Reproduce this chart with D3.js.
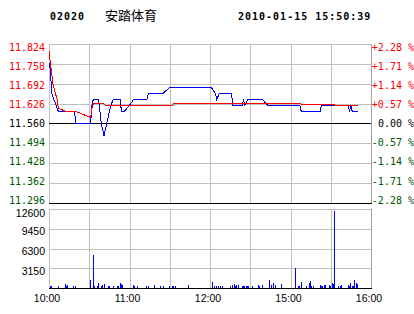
<!DOCTYPE html>
<html>
<head>
<meta charset="utf-8">
<script src="https://cdn.jsdelivr.net/npm/d3@7"></script>
<style>
  body { margin: 0; background: #fff; }
  svg { display: block; }
</style>
</head>
<body>
<svg id="chart"></svg>
<script>
// header
var stockCode = "02020";
var stockName = "安踏体育";
var stamp = "2010-01-15 15:50:39";

var prevClose = 11.56;
var priceTicks = [11.824, 11.758, 11.692, 11.626, 11.560, 11.494, 11.428, 11.362, 11.296];
var pctTicks = ["+2.28 %", "+1.71 %", "+1.14 %", "+0.57 %", "0.00 %", "-0.57 %", "-1.14 %", "-1.71 %", "-2.28 %"];
var volTicks = [12600, 9450, 6300, 3150];
var timeTicks = [0, 60, 120, 180, 240];
var timeLabels = ["10:00", "11:00", "12:00", "15:00", "16:00"];

// minutes since 10:00 (lunch removed) -> price
var priceMin = [0, 1, 2, 7, 19, 20, 31, 32, 33, 37, 39, 41, 43, 46, 48, 53, 54, 56, 60, 63, 73, 74, 85, 90,
  121, 124, 125, 127, 136, 137, 144, 145, 146, 148, 159, 163, 187, 188, 202, 203, 223, 224, 225, 226, 230];
var priceVal = [11.76, 11.74, 11.66, 11.60, 11.60, 11.56, 11.56, 11.62, 11.64, 11.64, 11.56, 11.52, 11.56, 11.62, 11.64, 11.64, 11.60, 11.60, 11.62, 11.64, 11.64, 11.66, 11.66, 11.68,
  11.68, 11.66, 11.64, 11.66, 11.66, 11.62, 11.62, 11.64, 11.62, 11.64, 11.64, 11.62, 11.62, 11.60, 11.60, 11.62, 11.62, 11.60, 11.62, 11.60, 11.60];

// average price
var avgMin = [0, 3, 6, 7, 10, 13, 20, 31, 32, 33, 41, 42, 92, 93, 113, 114, 187, 188, 212, 213, 230];
var avgVal = [11.80, 11.69, 11.64, 11.61, 11.605, 11.60, 11.60, 11.58, 11.61, 11.625, 11.625, 11.62, 11.62, 11.625, 11.625, 11.627, 11.627, 11.624, 11.624, 11.621, 11.621];

// volume per minute
var volMin = [1, 2, 7, 12, 13, 14, 18, 20, 31, 33, 34, 36, 37, 39, 40, 41, 44, 45, 48, 51, 52, 53, 54, 55, 63, 64, 66, 73, 74, 79, 83, 85, 90, 92, 93, 94, 104,
  122, 123, 125, 126, 128, 129, 135, 137, 138, 139, 140, 141, 144, 145, 146, 147, 148, 149, 152, 156, 157, 159, 164, 166, 167, 169, 173, 184, 186, 187, 188,
  192, 194, 195, 196, 197, 202, 203, 204, 205, 206, 209, 210, 211, 212, 213, 216, 217, 218, 223, 224, 225, 226, 227, 228, 229, 230];
var volVal = [370, 370, 370, 680, 370, 500, 370, 370, 1280, 5270, 370, 370, 800, 370, 500, 630, 370, 370, 370, 370, 370, 800, 600, 500, 500, 370, 370, 370, 370, 500, 370, 370, 370, 370, 370, 370, 500,
  950, 320, 370, 370, 370, 370, 370, 480, 590, 370, 480, 480, 370, 370, 370, 370, 370, 370, 370, 480, 370, 480, 1280, 480, 800, 480, 640, 3190, 370, 370, 960,
  370, 800, 1120, 370, 370, 480, 370, 370, 480, 480, 480, 370, 800, 690, 12280, 370, 370, 530, 480, 370, 800, 370, 370, 1280, 800, 590];

var W = 414, H = 314;
var left = 49, right = 371;
var pTop = 44, pBot = 203, vTop = 209, vBot = 288;
var red = "#ff0000", green = "#005500", blue = "#0000ff", grid = "#c0c0c0";

var svg = d3.select("#chart").attr("width", W).attr("height", H);
svg.append("rect").attr("width", W).attr("height", H).attr("fill", "#fff");

var x = d3.scaleLinear().domain([0, 240]).range([left, right]);
var y = d3.scaleLinear().domain([11.296, 11.824]).range([pBot, pTop]);
var yLab = d3.scaleLinear().domain([11.296, 11.824]).range([200, 47.3]);
var yv = d3.scaleLinear().domain([0, 12600]).range([vBot, vTop]);

function tickColor(i){
  if (i < 4) return red;
  if (i == 4) return "#000";
  return green;
}

// header text
var head = svg.append("g").attr("font-weight", "bold")
  .attr("font-family", "'DejaVu Sans Mono', monospace").attr("font-size", 10)
  .style("letter-spacing", "1px");
head.append("text").attr("x", 50).attr("y", 20).text(stockCode);
head.append("text").attr("x", 238).attr("y", 20).text(stamp);
svg.append("text").attr("x", 105).attr("y", 20)
  .attr("font-family", "'Noto Sans CJK SC', sans-serif").attr("font-size", 13)
  .text(stockName);

// grids
var g = svg.append("g").attr("shape-rendering", "crispEdges");
g.selectAll(".ph").data(priceTicks).enter().append("line")
  .attr("x1", left).attr("x2", right)
  .attr("y1", function(d){ return Math.round(y(d)) + 0.5; })
  .attr("y2", function(d){ return Math.round(y(d)) + 0.5; })
  .attr("stroke", function(d, i){ return (i == 4 || i == 8) ? "#000" : grid; });
g.selectAll(".vh").data(volTicks.concat([0])).enter().append("line")
  .attr("x1", left).attr("x2", right)
  .attr("y1", function(d){ return Math.round(yv(d)) + 0.5; })
  .attr("y2", function(d){ return Math.round(yv(d)) + 0.5; })
  .attr("stroke", function(d){ return d == 0 ? "#000" : grid; });
var gridMin = d3.range(0, 241, 30);
[[pTop, pBot], [vTop, vBot]].forEach(function(r){
  g.selectAll(null).data(gridMin).enter().append("line")
    .attr("x1", function(d){ return Math.round(x(d)) + 0.5; })
    .attr("x2", function(d){ return Math.round(x(d)) + 0.5; })
    .attr("y1", r[0]).attr("y2", r[1])
    .attr("stroke", function(d){ return d == 240 ? "#a0a0a0" : grid; });
});
// redraw black baselines on top of verticals
g.append("line").attr("x1", left).attr("x2", right)
  .attr("y1", Math.round(y(prevClose)) + 0.5).attr("y2", Math.round(y(prevClose)) + 0.5).attr("stroke", "#000");
g.append("line").attr("x1", left).attr("x2", right + 1)
  .attr("y1", Math.round(y(11.296)) + 0.5).attr("y2", Math.round(y(11.296)) + 0.5).attr("stroke", "#000");
g.append("line").attr("x1", left).attr("x2", right + 1)
  .attr("y1", Math.round(yv(0)) + 0.5).attr("y2", Math.round(yv(0)) + 0.5).attr("stroke", "#000");

// price labels
svg.append("g").attr("font-family", "'DejaVu Sans Mono', monospace").attr("font-size", 10)
  .selectAll("text").data(priceTicks).enter().append("text")
  .attr("x", 45).attr("y", function(d){ return yLab(d); }).attr("dy", "0.36em")
  .attr("text-anchor", "end").attr("fill", function(d, i){ return tickColor(i); })
  .text(function(d){ return d.toFixed(3); });
svg.append("g").attr("font-family", "'DejaVu Sans Mono', monospace").attr("font-size", 10)
  .selectAll("text").data(pctTicks).enter().append("text")
  .attr("x", 414).attr("y", function(d, i){ return yLab(priceTicks[i]); }).attr("dy", "0.36em")
  .attr("text-anchor", "end").attr("fill", function(d, i){ return tickColor(i); })
  .text(function(d){ return d; });

// volume labels
svg.append("g").attr("font-family", "'Liberation Sans', Arial, sans-serif").attr("font-size", 10.5)
  .selectAll("text").data(volTicks).enter().append("text")
  .attr("x", 45).attr("y", function(d, i){ return i == 0 ? yv(d) + 4 : yv(d) + 2.5; }).attr("dy", "0.36em")
  .attr("text-anchor", "end").text(function(d){ return d; });

// time labels
svg.append("g").attr("font-family", "'Liberation Sans', Arial, sans-serif").attr("font-size", 10.5)
  .selectAll("text").data(timeTicks).enter().append("text")
  .attr("x", function(d){ return x(d) - 2; }).attr("y", 302)
  .attr("text-anchor", "middle").text(function(d, i){ return timeLabels[i]; });

// volume bars
svg.append("g").attr("shape-rendering", "crispEdges")
  .selectAll("rect").data(volMin).enter().append("rect")
  .attr("x", function(d){ return Math.floor(x(d)); })
  .attr("width", 1)
  .attr("y", function(d, i){ return yv(volVal[i]); })
  .attr("height", function(d, i){ return vBot - yv(volVal[i]); })
  .attr("fill", blue);

// price + average lines
var line = d3.line().x(function(d){ return x(d[0]); }).y(function(d){ return y(d[1]); });
svg.append("path").datum(d3.zip(priceMin, priceVal)).attr("d", line)
  .attr("fill", "none").attr("stroke", blue).attr("stroke-width", 1).attr("shape-rendering", "crispEdges");
svg.append("path").datum(d3.zip(avgMin, avgVal)).attr("d", line)
  .attr("fill", "none").attr("stroke", red).attr("stroke-width", 1).attr("shape-rendering", "crispEdges");
</script>
</body>
</html>
